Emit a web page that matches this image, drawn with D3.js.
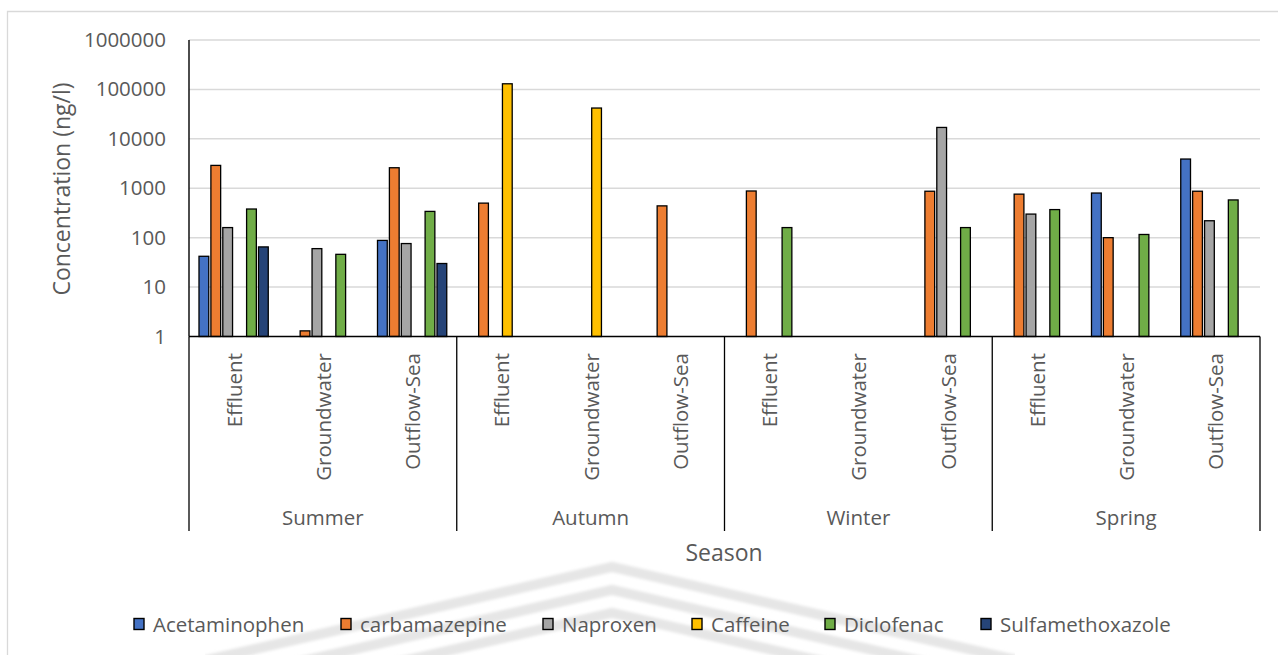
<!DOCTYPE html>
<html>
<head>
<meta charset="utf-8">
<script src="https://cdn.jsdelivr.net/npm/d3@7"></script>
<style>
  html, body { margin: 0; padding: 0; background: #fff; }
  svg { display: block; font-family: "Open Sans", sans-serif; }
</style>
</head>
<body>
<svg id="chart" width="1278" height="655"></svg>
<script>
// Seasons (outer axis level) and sampling sites (inner level)
const seasons = ["Summer", "Autumn", "Winter", "Spring"];
const sites = ["Effluent", "Groundwater", "Outflow-Sea"];

// Concentrations in ng/l, ordered season by season, site by site (null = not detected)
const acetaminophen    = [42, null, 88,    null, null, null,   null, null, null,    null, 800, 3900];
const carbamazepine    = [2900, 1.3, 2600, 500, null, 440,     880, null, 870,      760, 100, 870];
const naproxen         = [160, 60, 76,     null, null, null,   null, null, 17000,   300, null, 220];
const caffeine         = [null, null, null, 130000, 42000, null, null, null, null,  null, null, null];
const diclofenac       = [380, 46, 340,    null, null, null,   160, null, 160,      370, 116, 580];
const sulfamethoxazole = [65, null, 30,    null, null, null,   null, null, null,    null, null, null];

const seriesNames = ["Acetaminophen", "carbamazepine", "Naproxen", "Caffeine", "Diclofenac", "Sulfamethoxazole"];
const seriesValues = [acetaminophen, carbamazepine, naproxen, caffeine, diclofenac, sulfamethoxazole];
const seriesColors = ["#4472C4", "#ED7D31", "#A5A5A5", "#FFC000", "#70AD47", "#264478"];
const yTicks = [1, 10, 100, 1000, 10000, 100000, 1000000];

const svg = d3.select("#chart");
const textColor = "#595959";
const fontSize = 20.5;
const titleSize = 23;

const plot = { left: 189, right: 1260, top: 40, bottom: 336.5 };

// Faint chevron watermark behind the lower part of the chart
const defs = svg.append("defs");
defs.append("filter").attr("id", "soft")
  .append("feGaussianBlur").attr("stdDeviation", 1.8);
defs.append("clipPath").attr("id", "wmClip")
  .append("rect").attr("x", 205).attr("y", 540).attr("width", 810).attr("height", 120);
const wm = svg.append("g").attr("clip-path", "url(#wmClip)").attr("filter", "url(#soft)");
[567, 590, 613].forEach(py => {
  const px = 612, slope = 0.23;
  wm.append("path")
    .attr("d", d3.line()([[px - 500, py + 500 * slope], [px, py], [px + 500, py + 500 * slope]]))
    .attr("fill", "none")
    .attr("stroke", "#e6e6e6")
    .attr("stroke-width", 10);
});

// Chart area outline
svg.append("path")
  .attr("d", "M7.5,655 L7.5,11.5 L1278,11.5")
  .attr("fill", "none")
  .attr("stroke", "#d9d9d9")
  .attr("stroke-width", 1.3);

// Scales
const y = d3.scaleLog().domain([1, 1e6]).range([plot.bottom, plot.top]);
const xSeason = d3.scaleBand().domain(seasons).range([plot.left, plot.right]).padding(0);
const xSite = d3.scaleBand().domain(sites).range([0, xSeason.bandwidth()]).padding(0);
const xSeries = d3.scaleBand().domain(seriesNames).range([0, xSite.bandwidth()])
  .paddingInner(0.18).paddingOuter(0.84);

// Horizontal gridlines
svg.append("g")
  .selectAll("line")
  .data(yTicks.slice(1))
  .join("line")
  .attr("x1", plot.left).attr("x2", plot.right)
  .attr("y1", d => y(d)).attr("y2", d => y(d))
  .attr("stroke", "#d9d9d9")
  .attr("stroke-width", 1.5);

// Y axis labels
const yAxis = svg.append("g")
  .attr("transform", `translate(${plot.left},0)`)
  .call(d3.axisLeft(y).tickValues(yTicks).tickFormat(d3.format("d")).tickSize(0).tickPadding(23));
yAxis.select(".domain").remove();
yAxis.selectAll("text")
  .attr("fill", textColor)
  .style("font-size", fontSize + "px")
  .style("font-family", "'Open Sans', sans-serif");

// Bars
const cells = [];
seasons.forEach((s, si) => {
  sites.forEach((t, ti) => {
    seriesNames.forEach((n, k) => {
      const v = seriesValues[k][si * sites.length + ti];
      if (v != null) cells.push({ season: s, site: t, series: n, k, value: v });
    });
  });
});
svg.append("g")
  .selectAll("rect")
  .data(cells)
  .join("rect")
  .attr("x", d => xSeason(d.season) + xSite(d.site) + xSeries(d.series))
  .attr("width", xSeries.bandwidth())
  .attr("y", d => y(d.value))
  .attr("height", d => y(1) - y(d.value))
  .attr("fill", d => seriesColors[d.k])
  .attr("stroke", "#000")
  .attr("stroke-width", 1.3);

// Axis lines
svg.append("line")
  .attr("x1", plot.left).attr("x2", plot.left)
  .attr("y1", plot.top).attr("y2", plot.bottom)
  .attr("stroke", "#000").attr("stroke-width", 1.4);
svg.append("line")
  .attr("x1", plot.left).attr("x2", plot.right)
  .attr("y1", plot.bottom).attr("y2", plot.bottom)
  .attr("stroke", "#000").attr("stroke-width", 1.4);

// Season separators of the two-level category axis
const bounds = seasons.map(s => xSeason(s)).concat([plot.right]);
svg.append("g")
  .selectAll("line")
  .data(bounds)
  .join("line")
  .attr("x1", d => d).attr("x2", d => d)
  .attr("y1", plot.bottom).attr("y2", 531)
  .attr("stroke", "#000").attr("stroke-width", 1.3);

// Site labels (rotated)
const siteLabels = [];
seasons.forEach(s => sites.forEach(t => siteLabels.push({ s, t })));
svg.append("g")
  .selectAll("text")
  .data(siteLabels)
  .join("text")
  .attr("transform", d => `translate(${xSeason(d.s) + xSite(d.t) + xSite.bandwidth() / 2},353) rotate(-90)`)
  .attr("text-anchor", "end")
  .attr("dominant-baseline", "central")
  .attr("fill", textColor)
  .style("font-size", fontSize + "px")
  .text(d => d.t);

// Season labels
svg.append("g")
  .selectAll("text")
  .data(seasons)
  .join("text")
  .attr("x", d => xSeason(d) + xSeason.bandwidth() / 2)
  .attr("y", 517)
  .attr("text-anchor", "middle")
  .attr("dominant-baseline", "central")
  .attr("fill", textColor)
  .style("font-size", fontSize + "px")
  .text(d => d);

// Axis titles
svg.append("text")
  .attr("transform", "translate(61,189) rotate(-90)")
  .attr("text-anchor", "middle")
  .attr("dominant-baseline", "central")
  .attr("fill", textColor)
  .style("font-size", titleSize + "px")
  .text("Concentration (ng/l)");
svg.append("text")
  .attr("x", 724)
  .attr("y", 552)
  .attr("text-anchor", "middle")
  .attr("dominant-baseline", "central")
  .attr("fill", textColor)
  .style("font-size", titleSize + "px")
  .text("Season");

// Legend
const legendX = [134, 341, 543, 692, 825, 981];
const legend = svg.append("g")
  .selectAll("g")
  .data(seriesNames)
  .join("g")
  .attr("transform", (d, i) => `translate(${legendX[i]},624)`);
legend.append("rect")
  .attr("x", 0).attr("y", -5.5)
  .attr("width", 10).attr("height", 11)
  .attr("fill", (d, i) => seriesColors[i])
  .attr("stroke", "#000").attr("stroke-width", 1.4);
legend.append("text")
  .attr("x", 19)
  .attr("y", 0)
  .attr("dominant-baseline", "central")
  .attr("fill", textColor)
  .style("font-size", fontSize + "px")
  .text(d => d);
</script>
</body>
</html>
